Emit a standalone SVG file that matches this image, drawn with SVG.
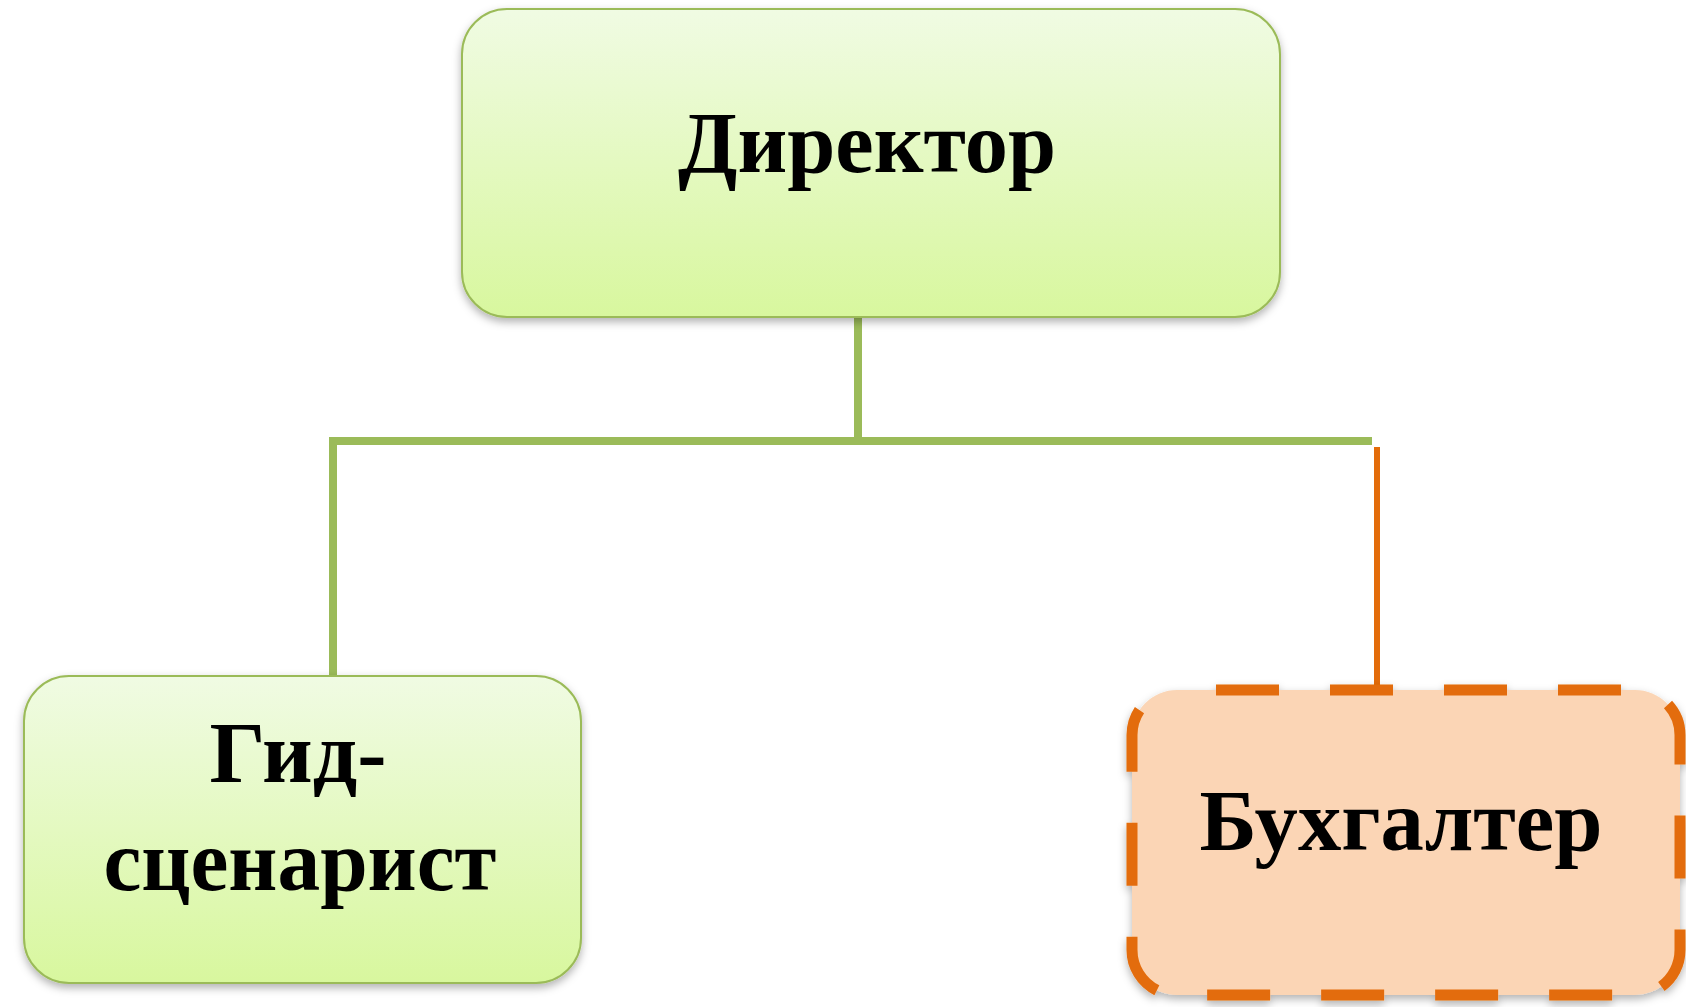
<svg xmlns="http://www.w3.org/2000/svg" width="1686" height="1007" viewBox="0 0 1686 1007">
<style>
.lbl{font-family:"Liberation Serif","Times New Roman",serif;font-weight:bold;font-size:86px;fill:#000;text-anchor:middle}
.green{fill:url(#gg);stroke:#9bbb59;stroke-width:2}
.orange{fill:#fbd5b5;stroke:#e36c0a;stroke-width:11;stroke-dasharray:63 51;stroke-dashoffset:75}
.cg{stroke:#9bbb59;stroke-width:8;fill:none}
.co{stroke:#e36c0a;stroke-width:6;fill:none}
</style>
<defs>
<linearGradient id="gg" x1="0" y1="0" x2="0" y2="1">
<stop offset="0" stop-color="#f0fbe3"/>
<stop offset="1" stop-color="#d8f79e"/>
</linearGradient>
<filter id="sh" x="-10%" y="-10%" width="120%" height="130%">
<feDropShadow dx="0" dy="4" stdDeviation="4" flood-color="#000" flood-opacity="0.3"/>
</filter>
</defs>
<rect width="1686" height="1007" fill="#fff"/>
<g id="connectors">
<line class="cg" x1="858" y1="317" x2="858" y2="441"/>
<line class="cg" x1="329" y1="441" x2="1372" y2="441"/>
<line class="cg" x1="333" y1="437" x2="333" y2="677"/>
<line class="co" x1="1377" y1="447" x2="1377" y2="690"/>
</g>
<g id="node-director">
<rect class="green" filter="url(#sh)" x="462" y="9" width="818" height="308" rx="45"/>
<text class="lbl" x="867" y="172" textLength="378" lengthAdjust="spacingAndGlyphs">Директор</text>
</g>
<g id="node-guide">
<rect class="green" filter="url(#sh)" x="24" y="676" width="557" height="307" rx="45"/>
<text class="lbl" x="298" y="782" textLength="177" lengthAdjust="spacingAndGlyphs">Гид-</text>
<text class="lbl" x="300" y="890" textLength="393" lengthAdjust="spacingAndGlyphs">сценарист</text>
</g>
<g id="node-accountant">
<rect class="orange" filter="url(#sh)" x="1132" y="690" width="548" height="305" rx="45"/>
<text class="lbl" x="1401" y="850" textLength="403" lengthAdjust="spacingAndGlyphs">Бухгалтер</text>
</g>
</svg>
